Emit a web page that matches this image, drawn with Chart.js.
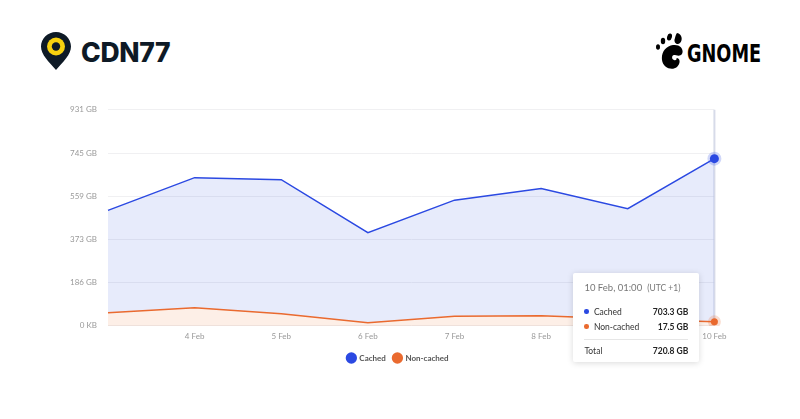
<!DOCTYPE html>
<html lang="en">
<head>
<meta charset="UTF-8">
<title>CDN77 / GNOME traffic</title>
<script src="https://cdn.jsdelivr.net/npm/chart.js@4.4.0/dist/chart.umd.min.js"></script>
<style>
  body {
    margin: 0;
    width: 800px;
    height: 419px;
    background: #fff;
    font-family: Lato, 'Open Sans', sans-serif;
    position: relative;
    overflow: hidden;
  }
  .logo-cdn { position: absolute; left: 40px; top: 31px; display: flex; align-items: center; }
  .logo-cdn span {
    font-family: Inter, 'DejaVu Sans', sans-serif;
    font-weight: 800; font-size: 26.5px; letter-spacing: -0.3px;
    color: #0e1a26; margin-left: 9px; margin-top: 2px;
  }
  .logo-gnome { position: absolute; left: 655px; top: 32px; display: flex; align-items: flex-end; }
  .logo-gnome span {
    font-family: 'Liberation Sans Narrow', 'DejaVu Sans Condensed', sans-serif;
    font-weight: 700; font-size: 24px; color: #000; margin-left: 2px; margin-bottom: 2px;
    display: inline-block; transform: scaleX(0.82); transform-origin: left bottom;
  }
  .chart-box { position: absolute; left: 64px; top: 94px; width: 668px; height: 278px; }
  #tip {
    position: absolute; width: 126px; background: #fff; border-radius: 2px;
    box-shadow: 0 1px 6px rgba(0,0,0,0.15); padding: 9px 11px 3px 11px; box-sizing: border-box;
    font-family: Lato, 'Open Sans', sans-serif; color: #333; opacity: 0;
  }
  #tip .title { font-size: 9.5px; color: #777; margin-bottom: 12px; }
  #tip .title small { font-size: 8.5px; margin-left: 5px; }
  #tip .row { display: flex; justify-content: space-between; font-size: 8.5px; line-height: 15px; }
  #tip .row b { font-weight: 700; color: #222; }
  #tip .dot { display: inline-block; width: 4.5px; height: 4.5px; border-radius: 50%; margin-right: 5px; vertical-align: 1px; }
  #tip hr { border: 0; border-top: 1px solid #e6e6e6; margin: 4px 0 4px 0; }
</style>
</head>
<body>
  <div class="logo-cdn">
    <svg width="32" height="40" viewBox="0 0 32 40">
      <path d="M16 1 C7.7 1 1 7.5 1 15.6 C1 24 9 31 16 39 C23 31 31 24 31 15.6 C31 7.5 24.3 1 16 1 Z" fill="#0e1a26"/>
      <circle cx="16" cy="15.5" r="9" fill="#f7d10f"/>
      <circle cx="16" cy="15.5" r="4.2" fill="#0e1a26"/>
    </svg>
    <span>CDN77</span>
  </div>
  <div class="logo-gnome">
    <svg width="30" height="38" viewBox="0 0 30 38">
      <ellipse cx="3" cy="15" rx="2" ry="2.8" fill="#000"/>
      <ellipse cx="8" cy="9" rx="2.2" ry="3.2" fill="#000"/>
      <ellipse cx="14.5" cy="5" rx="2.4" ry="3.6" fill="#000" transform="rotate(15 14.5 5)"/>
      <path d="M22 1 C27 2 28 8 25 11 C22 14 18 10 20 6 C20.5 4 21 2 22 1 Z" fill="#000"/>
      <path d="M18 13 C26 12 29 18 27 22 C25 25 21 23 19 23 C17 23 16 27 19 28 C21 29 22 27 21.5 26 C25 26 26 31 22 35 C17 39 8 36 7 28 C6 20 11 14 18 13 Z" fill="#000"/>
    </svg>
    <span>GNOME</span>
  </div>

  <div class="chart-box">
    <canvas id="traffic"></canvas>
  </div>
  <div id="tip"></div>

  <script>
    // Data (GB per day)
    const days = ['3 Feb', '4 Feb', '5 Feb', '6 Feb', '7 Feb', '8 Feb', '9 Feb', '10 Feb'];
    const cached = [441, 561, 578, 388, 500, 548, 475, 703.3];
    const nonCached = [57, 78, 52, 14, 42, 44, 30, 17.5];
    const yTickLabels = ['0 KB', '186 GB', '373 GB', '559 GB', '745 GB', '931 GB'];
    const yMax = 931.32;
    const hoverIndex = 7;
    const hoverTime = '01:00';
    const hoverZone = '(UTC +1)';

    const blue = '#2b49e2';
    const orange = '#ea6a2f';

    function pointSizes(r) {
      return days.map((d, i) => i === hoverIndex ? r : 0);
    }

    // vertical hover line at the active index
    const hoverLine = {
      id: 'hoverLine',
      beforeDatasetsDraw(chart) {
        const x = chart.scales.x.getPixelForValue(hoverIndex);
        const { top, bottom } = chart.chartArea;
        const ctx = chart.ctx;
        ctx.save();
        ctx.strokeStyle = 'rgba(205,210,228,0.8)';
        ctx.lineWidth = 2;
        ctx.beginPath();
        ctx.moveTo(x, top);
        ctx.lineTo(x, bottom);
        ctx.stroke();
        ctx.restore();
      }
    };

    function externalTooltip(context) {
      const { chart, tooltip } = context;
      const el = document.getElementById('tip');
      if (tooltip.opacity === 0 || !tooltip.dataPoints) { el.style.opacity = 0; return; }
      const i = tooltip.dataPoints[0].dataIndex;
      const total = cached[i] + nonCached[i];
      el.innerHTML =
        '<div class="title">' + days[i] + ', ' + hoverTime + '<small>' + hoverZone + '</small></div>' +
        '<div class="row"><span><i class="dot" style="background:' + blue + '"></i>Cached</span><b>' + cached[i].toFixed(1) + ' GB</b></div>' +
        '<div class="row"><span><i class="dot" style="background:' + orange + '"></i>Non-cached</span><b>' + nonCached[i].toFixed(1) + ' GB</b></div>' +
        '<hr><div class="row"><span>Total</span><b>' + total.toFixed(1) + ' GB</b></div>';
      const box = chart.canvas.parentNode;
      const x = chart.scales.x.getPixelForValue(i);
      el.style.left = (box.offsetLeft + x - 141) + 'px';
      el.style.top = (box.offsetTop + chart.chartArea.bottom - 53) + 'px';
      el.style.opacity = 1;
    }

    const chart = new Chart(document.getElementById('traffic'), {
      type: 'line',
      data: {
        labels: days,
        datasets: [
          {
            label: 'Non-cached',
            data: nonCached,
            borderColor: orange,
            backgroundColor: 'rgba(240,120,60,0.12)',
            borderWidth: 1.5,
            fill: 'origin',
            tension: 0,
            pointRadius: pointSizes(3.5),
            pointBackgroundColor: orange,
            pointBorderColor: 'rgba(234,106,47,0.22)',
            pointBorderWidth: 6
          },
          {
            label: 'Cached',
            data: cached,
            borderColor: blue,
            backgroundColor: 'rgba(60,90,225,0.12)',
            borderWidth: 1.5,
            fill: '-1',
            tension: 0,
            pointRadius: pointSizes(4.5),
            pointBackgroundColor: blue,
            pointBorderColor: 'rgba(43,73,226,0.22)',
            pointBorderWidth: 5
          }
        ]
      },
      options: {
        responsive: true,
        maintainAspectRatio: false,
        animation: false,
        layout: { padding: 0 },
        scales: {
          x: {
            grid: { display: false, drawTicks: false },
            border: { display: false },
            ticks: {
              color: '#999',
              font: { family: 'Lato', size: 8 },
              maxRotation: 0,
              autoSkip: false,
              padding: 5.5,
              callback: (v, i) => i === 0 ? '' : days[i]
            }
          },
          y: {
            stacked: true,
            min: 0,
            max: yMax,
            afterFit: s => { s.width = 44; },
            afterBuildTicks: s => {
              s.ticks = yTickLabels.map((t, i) => ({ value: yMax * i / (yTickLabels.length - 1) }));
            },
            grid: { color: '#f0f0f2', drawTicks: false },
            border: { display: false },
            ticks: {
              color: '#999',
              font: { family: 'Lato', size: 8 },
              padding: 11,
              callback: (v, i) => yTickLabels[i]
            }
          }
        },
        plugins: {
          legend: {
            position: 'bottom',
            reverse: true,
            labels: {
              usePointStyle: true,
              pointStyle: 'circle',
              boxWidth: 8,
              boxHeight: 8,
              padding: 7.5,
              color: '#555',
              font: { family: 'Lato', size: 8, weight: 'bold' },
              generateLabels: c => Chart.defaults.plugins.legend.labels.generateLabels(c)
                .map(l => Object.assign(l, { lineWidth: 0, strokeStyle: 'rgba(0,0,0,0)' }))
            }
          },
          tooltip: {
            enabled: false,
            mode: 'index',
            intersect: false,
            external: externalTooltip
          }
        }
      },
      plugins: [hoverLine]
    });

    chart.tooltip.setActiveElements(
      [{ datasetIndex: 1, index: hoverIndex }, { datasetIndex: 0, index: hoverIndex }],
      { x: 0, y: 0 }
    );
    chart.update();
  </script>
</body>
</html>
